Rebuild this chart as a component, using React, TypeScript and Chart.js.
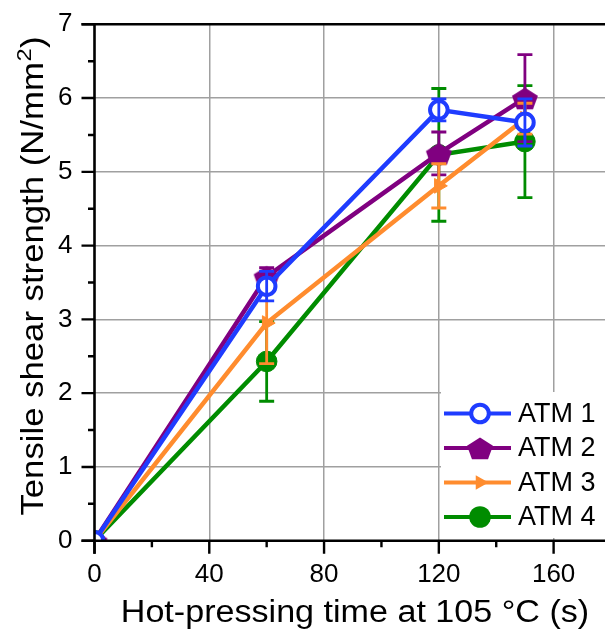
import React, { useEffect, useRef } from 'react';
import { Chart, registerables } from 'chart.js';

Chart.register(...registerables);

// ---- data ----
const xValues = [0, 60, 120, 150];
const atm1 = [0, 3.45, 5.84, 5.67];
const atm1Err = [0, 0.2, 0.15, 0.32];
const atm2 = [0, 3.58, 5.25, 6.0];
const atm2Err = [0, 0.12, 0.29, 0.59];
const atm3 = [0, 2.95, 4.81, 5.72];
const atm3Err = [0, 0.55, 0.3, 0.21];
const atm4 = [0, 2.43, 5.23, 5.41];
const atm4Err = [0, 0.54, 0.9, 0.76];
const seriesNames = ['ATM 1', 'ATM 2', 'ATM 3', 'ATM 4'];
const seriesColors = ['#1f3cff', '#800080', '#ff8c2e', '#008c00'];
const xTickLabels = [0, 40, 80, 120, 160];
const yTickLabels = [0, 1, 2, 3, 4, 5, 6, 7];
const xTitle = 'Hot-pressing time at 105 °C (s)';
const yTitleMain = 'Tensile shear strength (N/mm';
const yTitleSup = '2';
const yTitleEnd = ')';

const FONT = '"Liberation Sans", Arial, sans-serif';

function makePentagon(color: string): HTMLCanvasElement {
  const R = 13;
  const c = document.createElement('canvas');
  c.width = 30;
  c.height = 28;
  const ctx = c.getContext('2d')!;
  ctx.fillStyle = color;
  ctx.beginPath();
  for (let k = 0; k < 5; k++) {
    const a = -Math.PI / 2 + (k * 2 * Math.PI) / 5;
    const px = 15 + R * 1.05 * Math.cos(a);
    const py = 15.5 + R * 0.92 * Math.sin(a);
    if (k === 0) ctx.moveTo(px, py);
    else ctx.lineTo(px, py);
  }
  ctx.closePath();
  ctx.fill();
  return c;
}

export default function App() {
  const ref = useRef<HTMLCanvasElement | null>(null);

  useEffect(() => {
    const canvas = ref.current;
    if (!canvas) return;
    const pent = makePentagon(seriesColors[1]);
    const errs = [atm1Err, atm2Err, atm3Err, atm4Err];
    const vals = [atm1, atm2, atm3, atm4];

    const errorBars = {
      id: 'errorBars',
      afterDatasetDraw(chart: any, args: any) {
        const i = args.index;
        const ctx = chart.ctx;
        const xs = chart.scales.x;
        const ys = chart.scales.y;
        const a = chart.chartArea;
        ctx.save();
        ctx.beginPath();
        ctx.rect(a.left, a.top, a.right - a.left, a.bottom - a.top);
        ctx.clip();
        ctx.strokeStyle = seriesColors[i];
        ctx.lineWidth = 2.8;
        for (let k = 0; k < xValues.length; k++) {
          const e = errs[i][k];
          if (!e) continue;
          const x = xs.getPixelForValue(xValues[k]);
          const y1 = ys.getPixelForValue(vals[i][k] + e);
          const y2 = ys.getPixelForValue(vals[i][k] - e);
          ctx.beginPath();
          ctx.moveTo(x, y1);
          ctx.lineTo(x, y2);
          ctx.moveTo(x - 7.5, y1);
          ctx.lineTo(x + 7.5, y1);
          ctx.moveTo(x - 7.5, y2);
          ctx.lineTo(x + 7.5, y2);
          ctx.stroke();
        }
        ctx.restore();
      },
    };

    const frame = {
      id: 'frame',
      afterDraw(chart: any) {
        const ctx = chart.ctx;
        const a = chart.chartArea;
        const xs = chart.scales.x;
        const ys = chart.scales.y;
        ctx.save();
        // legend
        ctx.fillStyle = '#ffffff';
        ctx.fillRect(441, 392, 200, 146);
        const ly = [413.5, 448, 482.5, 517];
        for (let i = 0; i < 4; i++) {
          const y = ly[i];
          ctx.strokeStyle = seriesColors[i];
          ctx.lineWidth = 4;
          ctx.beginPath();
          ctx.moveTo(444, y);
          ctx.lineTo(511, y);
          ctx.stroke();
          const mx = 480;
          if (i === 0) {
            ctx.fillStyle = '#ffffff';
            ctx.beginPath();
            ctx.arc(mx, y, 8.8, 0, Math.PI * 2);
            ctx.fill();
            ctx.lineWidth = 4;
            ctx.stroke();
          } else if (i === 1) {
            ctx.drawImage(pent, mx - pent.width / 2, y - pent.height / 2);
          } else if (i === 2) {
            const r = 8.5;
            ctx.fillStyle = seriesColors[i];
            ctx.beginPath();
            ctx.moveTo(mx + r, y);
            ctx.lineTo(mx - r / 2, y - r * 0.866);
            ctx.lineTo(mx - r / 2, y + r * 0.866);
            ctx.closePath();
            ctx.fill();
          } else {
            ctx.fillStyle = seriesColors[i];
            ctx.beginPath();
            ctx.arc(mx, y, 10.8, 0, Math.PI * 2);
            ctx.fill();
          }
          ctx.fillStyle = '#000000';
          ctx.font = `27px ${FONT}`;
          ctx.textAlign = 'left';
          ctx.textBaseline = 'middle';
          ctx.fillText(seriesNames[i], 518, y + 1);
        }

        // axes lines and frame
        ctx.strokeStyle = '#000000';
        ctx.lineWidth = 2.6;
        ctx.beginPath();
        ctx.moveTo(a.left - 13, a.top);
        ctx.lineTo(a.right + 20, a.top);
        ctx.moveTo(a.left, a.top);
        ctx.lineTo(a.left, a.bottom + 13);
        ctx.moveTo(a.left - 13, a.bottom);
        ctx.lineTo(a.right + 20, a.bottom);
        ctx.stroke();
        ctx.lineWidth = 2.4;
        ctx.beginPath();
        for (let v = 0; v <= 7.0001; v += 0.5) {
          const y = ys.getPixelForValue(v);
          const len = Math.abs(v - Math.round(v)) < 1e-6 ? 13 : 6.5;
          ctx.moveTo(a.left, y);
          ctx.lineTo(a.left - len, y);
        }
        for (let v = 0; v <= 180; v += 20) {
          const x = xs.getPixelForValue(v);
          const len = v % 40 === 0 ? 13 : 6.5;
          ctx.moveTo(x, a.bottom);
          ctx.lineTo(x, a.bottom + len);
        }
        ctx.stroke();

        // titles
        ctx.fillStyle = '#000000';
        ctx.font = `31px ${FONT}`;
        ctx.textAlign = 'center';
        ctx.textBaseline = 'alphabetic';
        ctx.save();
        ctx.translate(355, 621.5);
        ctx.scale(1.1, 1);
        ctx.fillText(xTitle, 0, 0);
        ctx.restore();

        ctx.save();
        ctx.translate(43, 276);
        ctx.rotate(-Math.PI / 2);
        ctx.scale(1.12, 1);
        ctx.textAlign = 'left';
        ctx.font = `31px ${FONT}`;
        const wMain = ctx.measureText(yTitleMain).width;
        ctx.font = `21px ${FONT}`;
        const wSup = ctx.measureText(yTitleSup).width;
        ctx.font = `31px ${FONT}`;
        const wEnd = ctx.measureText(yTitleEnd).width;
        const total = wMain + wSup + 1 + wEnd;
        let cx = -total / 2;
        ctx.fillText(yTitleMain, cx, 0);
        cx += wMain;
        ctx.font = `21px ${FONT}`;
        ctx.fillText(yTitleSup, cx + 0.5, -12);
        cx += wSup + 1;
        ctx.font = `31px ${FONT}`;
        ctx.fillText(yTitleEnd, cx, 0);
        ctx.restore();
        ctx.restore();
      },
    };

    const mk = (i: number, data: number[], extra: any, order: number) => ({
      label: seriesNames[i],
      data: xValues.map((x, k) => ({ x, y: data[k] })),
      borderColor: seriesColors[i],
      backgroundColor: seriesColors[i],
      borderWidth: 4.5,
      showLine: true,
      tension: 0,
      clip: 0,
      order,
      pointHoverRadius: 0,
      ...extra,
    });

    const zeroPad = (s: any) => {
      s.paddingTop = 0;
      s.paddingBottom = 0;
      s.paddingLeft = 0;
      s.paddingRight = 0;
    };

    const chart = new Chart(canvas, {
      type: 'scatter',
      data: {
        datasets: [
          mk(0, atm1, {
            pointStyle: 'circle',
            pointRadius: 8.8,
            pointBorderWidth: 4,
            pointBackgroundColor: '#ffffff',
            pointBorderColor: seriesColors[0],
          }, 1),
          mk(1, atm2, { pointStyle: pent, pointRadius: 12 }, 3),
          mk(2, atm3, {
            pointStyle: 'triangle',
            pointRotation: 90,
            pointRadius: 8.5,
            pointBorderWidth: 1,
            pointBackgroundColor: seriesColors[2],
            pointBorderColor: seriesColors[2],
          }, 2),
          mk(3, atm4, {
            pointStyle: 'circle',
            pointRadius: 10.3,
            pointBorderWidth: 1,
            pointBackgroundColor: seriesColors[3],
            pointBorderColor: seriesColors[3],
          }, 4),
        ],
      },
      options: {
        responsive: false,
        animation: false,
        devicePixelRatio: 1,
        layout: { autoPadding: false, padding: { left: 0, top: 24.3, right: 9, bottom: 0 } },
        plugins: {
          legend: { display: false },
          tooltip: { enabled: false },
        },
        events: [],
        scales: {
          x: {
            type: 'linear',
            min: 0,
            max: 180,
            afterFit: (s: any) => { s.height = 93.3; zeroPad(s); },
            border: { display: false },
            grid: {
              drawTicks: false,
              lineWidth: 1.5,
              color: (c: any) => {
                const v = c.tick ? c.tick.value : NaN;
                return v > 0 && v < 180 && v % 40 === 0 ? '#a0a0a0' : 'rgba(0,0,0,0)';
              },
            },
            ticks: {
              stepSize: 20,
              autoSkip: false,
              maxRotation: 0,
              padding: 0,
              color: '#000000',
              font: { family: FONT, size: 26, lineHeight: 2.6 },
              callback: (v: any) => (xTickLabels.includes(Number(v)) ? String(v) : ''),
            },
          },
          y: {
            type: 'linear',
            min: 0,
            max: 7,
            afterFit: (s: any) => { s.width = 94.5; zeroPad(s); },
            border: { display: false },
            grid: {
              drawTicks: false,
              lineWidth: 1.5,
              color: (c: any) => {
                const v = c.tick ? c.tick.value : NaN;
                return v > 0 && v < 7 && Number.isInteger(v) ? '#a0a0a0' : 'rgba(0,0,0,0)';
              },
            },
            ticks: {
              stepSize: 0.5,
              autoSkip: false,
              padding: 22,
              color: '#000000',
              font: { family: FONT, size: 26 },
              callback: (v: any) => (yTickLabels.includes(Number(v)) ? String(v) : ''),
            },
          },
        },
      },
      plugins: [errorBars, frame],
    } as any);

    return () => chart.destroy();
  }, []);

  return (
    <div
      style={{
        position: 'fixed',
        left: 0,
        top: 0,
        width: 605,
        height: 634,
        overflow: 'hidden',
        background: '#ffffff',
      }}
    >
      <canvas ref={ref} width={620} height={634} style={{ width: 620, height: 634, display: 'block' }} />
    </div>
  );
}
